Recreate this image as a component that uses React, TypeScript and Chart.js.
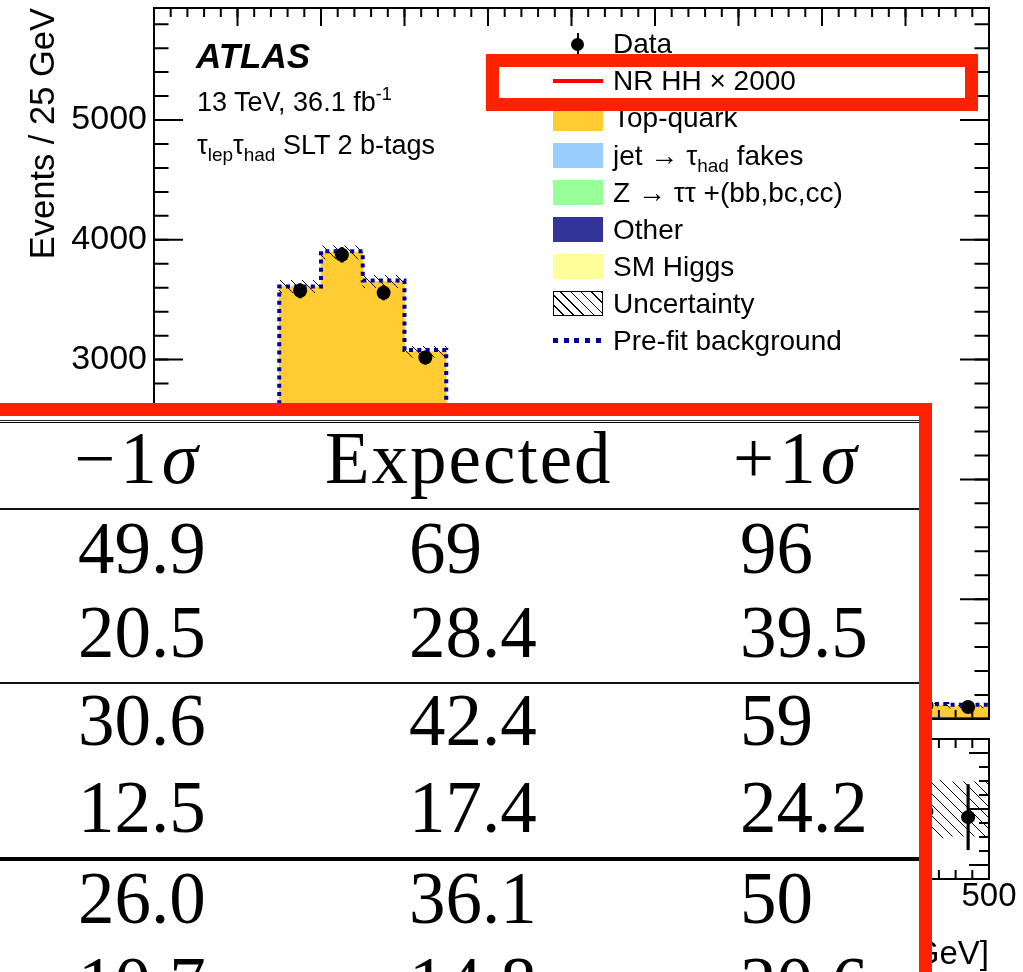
import React, { useEffect, useRef } from "react";
import { Chart, registerables } from "chart.js";

Chart.register(...registerables);

// ---------------- data ----------------
const binEdges = [0, 25, 50, 75, 100, 125, 150, 175, 200, 225, 250, 275, 300, 325, 350, 375, 400, 425, 450, 475, 500];
const binCenters = [12.5, 37.5, 62.5, 87.5, 112.5, 137.5, 162.5, 187.5, 212.5, 237.5, 262.5, 287.5, 312.5, 337.5, 362.5, 387.5, 412.5, 437.5, 462.5, 487.5];

const topQuark = [0, 40, 1180, 3080, 3340, 3140, 2640, 2060, 1530, 1130, 820, 600, 440, 330, 255, 195, 150, 122, 98, 90];
const jetFakes = [0, 12, 170, 410, 440, 400, 330, 250, 180, 130, 95, 70, 52, 40, 31, 24, 19, 15, 12, 9];
const zTauTau = [0, 4, 50, 85, 80, 78, 65, 50, 38, 28, 20, 15, 11, 9, 7, 5, 4, 3, 3, 2];
const otherBkg = [0, 2, 20, 28, 27, 26, 24, 20, 16, 12, 9, 7, 5, 4, 3, 3, 2, 2, 2, 1];
const smHiggs = [0, 1, 5, 7, 8, 8, 7, 6, 5, 4, 3, 2, 2, 1, 1, 1, 1, 1, 1, 1];
const bkgUncertainty = [0, 5, 45, 52, 55, 52, 45, 38, 30, 24, 19, 15, 12, 10, 9, 8, 7, 7, 12, 10];
const preFitBackground = [0, 58, 1440, 3610, 3905, 3660, 3080, 2420, 1790, 1320, 960, 700, 515, 390, 300, 230, 178, 145, 126, 118];
const signalNRHHx2000 = [0, 3, 40, 110, 160, 150, 95, 55, 35, 24, 18, 14, 11, 9, 8, 7, 6, 5, 5, 4];
const dataCounts = [0, 55, 1400, 3575, 3875, 3558, 3017, 2420, 1760, 1310, 940, 690, 505, 395, 290, 232, 170, 140, 115, 100];
const dataErrors = [0, 7, 37, 60, 62, 60, 55, 49, 42, 36, 31, 26, 22, 20, 17, 15, 13, 12, 11, 12];

const mainYTicks = [0, 1000, 2000, 3000, 4000, 5000];

// table
const tableHeaders = ["\u22121", "Expected", "+1"];
const minus1Sigma = ["49.9", "20.5", "30.6", "12.5", "26.0", "10.7"];
const expectedLimit = ["69", "28.4", "42.4", "17.4", "36.1", "14.8"];
const plus1Sigma = ["96", "39.5", "59", "24.2", "50", "20.6"];

// legend
const legendLabels = ["Data", "NR HH \u00d7 2000", "Top-quark", "jet \u2192 \u03c4", "Z \u2192 \u03c4\u03c4 +(bb,bc,cc)", "Other", "SM Higgs", "Uncertainty", "Pre-fit background"];
const COLORS = {
  top: "#ffcc33",
  fakes: "#99ccff",
  z: "#99ff99",
  other: "#333399",
  higgs: "#ffff99",
  prefit: "#000099",
  signal: "#ff0000",
  annot: "#ff2200",
};

const SANS = "'Liberation Sans', Arial, Helvetica, sans-serif";
const SERIF = "'Liberation Serif', 'Times New Roman', serif";

// ---------------- helpers ----------------
function makeHatch(): CanvasPattern | string {
  const c = document.createElement("canvas");
  c.width = 11;
  c.height = 11;
  const g = c.getContext("2d");
  if (!g) return "rgba(0,0,0,0.3)";
  g.strokeStyle = "#000";
  g.lineWidth = 1;
  g.beginPath();
  g.moveTo(-1, -1);
  g.lineTo(12, 12);
  g.moveTo(10, -1);
  g.lineTo(12, 1);
  g.moveTo(-1, 10);
  g.lineTo(1, 12);
  g.stroke();
  const p = g.createPattern(c, "repeat");
  return p || "rgba(0,0,0,0.3)";
}

const rootFrame = {
  id: "rootFrame",
  afterDatasetsDraw(chart: any, _args: any, o: any) {
    const { ctx, chartArea: a, scales } = chart;
    const xs = scales.x;
    const ys = scales.y;
    ctx.save();
    ctx.strokeStyle = "#000";
    ctx.lineWidth = 2;
    ctx.lineCap = "butt";
    const eachTick = (min: number, max: number, step: number, fn: (v: number) => void) => {
      const start = Math.ceil(min / step - 1e-9);
      const end = Math.floor(max / step + 1e-9);
      for (let i = start; i <= end; i++) fn(i * step);
    };
    const xTicks = (step: number, len: number) =>
      eachTick(xs.min, xs.max, step, (v) => {
        const p = xs.getPixelForValue(v);
        ctx.beginPath();
        ctx.moveTo(p, a.bottom);
        ctx.lineTo(p, a.bottom - len);
        ctx.moveTo(p, a.top);
        ctx.lineTo(p, a.top + len);
        ctx.stroke();
      });
    const yTicks = (step: number, len: number) =>
      eachTick(ys.min, ys.max, step, (v) => {
        const p = ys.getPixelForValue(v);
        ctx.beginPath();
        ctx.moveTo(a.left, p);
        ctx.lineTo(a.left + len, p);
        ctx.moveTo(a.right, p);
        ctx.lineTo(a.right - len, p);
        ctx.stroke();
      });
    xTicks(o.xMinor, o.xMinLen);
    xTicks(o.xMajor, o.xMajLen);
    yTicks(o.yMinor, o.yMinLen);
    yTicks(o.yMajor, o.yMajLen);
    ctx.strokeRect(a.left, a.top, a.right - a.left, a.bottom - a.top);
    ctx.restore();
  },
};

function stepPoints(values: number[]) {
  return binEdges.map((x, i) => ({ x, y: values[Math.min(i, values.length - 1)] }));
}

// text positioned by baseline
function Txt(props: { x: number; base: number; size: number; serif?: boolean; style?: any; children: any }) {
  const k = props.serif ? 0.8375 : 0.8465;
  return (
    <div
      style={{
        position: "absolute",
        left: props.x,
        top: props.base - k * props.size,
        fontSize: props.size,
        lineHeight: `${props.size}px`,
        height: props.size,
        fontFamily: props.serif ? SERIF : SANS,
        whiteSpace: "nowrap",
        color: "#000",
        ...(props.style || {}),
      }}
    >
      {props.children}
    </div>
  );
}

const subStyle = (size: number, shift: number) => ({ fontSize: size, verticalAlign: shift, lineHeight: 0 } as any);

export default function App() {
  const mainRef = useRef<HTMLCanvasElement>(null);
  const ratioRef = useRef<HTMLCanvasElement>(null);

  useEffect(() => {
    if (!mainRef.current || !ratioRef.current) return;
    Chart.defaults.font.family = SANS;
    Chart.defaults.color = "#000";
    const hatch = makeHatch();

    const components = [
      { label: "SM Higgs", values: smHiggs, color: COLORS.higgs },
      { label: "Other", values: otherBkg, color: COLORS.other },
      { label: "Z \u2192 \u03c4\u03c4 +(bb,bc,cc)", values: zTauTau, color: COLORS.z },
      { label: "jet \u2192 \u03c4had fakes", values: jetFakes, color: COLORS.fakes },
      { label: "Top-quark", values: topQuark, color: COLORS.top },
    ];
    let cum = binCenters.map(() => 0);
    const fillSets = components.map((c, k) => {
      const lo = cum.slice();
      cum = cum.map((v, i) => v + c.values[i]);
      const hi = cum.slice();
      return {
        type: "bar",
        label: c.label,
        data: binCenters.map((x, i) => ({ x, y: [lo[i], hi[i]] })),
        backgroundColor: c.color,
        borderWidth: 0,
        grouped: false,
        barPercentage: 1,
        categoryPercentage: 1,
        order: 10 + k,
      };
    });
    const total = cum;
    const idx = binCenters.map((_, i) => i);
    const dataIdx = idx.filter((i) => dataCounts[i] > 0);
    const predIdx = idx.filter((i) => total[i] > 0);

    const mainChart = new Chart(mainRef.current, {
      type: "bar",
      data: {
        datasets: [
          ...fillSets,
          {
            type: "bar",
            label: "Uncertainty",
            data: predIdx.map((i) => ({ x: binCenters[i], y: [total[i] - bkgUncertainty[i], total[i] + bkgUncertainty[i]] })),
            backgroundColor: hatch,
            borderWidth: 0,
            grouped: false,
            barPercentage: 1,
            categoryPercentage: 1,
            order: 5,
          },
          {
            type: "line",
            label: "NR HH \u00d7 2000",
            data: stepPoints(signalNRHHx2000),
            borderColor: COLORS.signal,
            borderWidth: 3,
            stepped: true,
            pointRadius: 0,
            fill: false,
            order: 4,
          },
          {
            type: "line",
            label: "Pre-fit background",
            data: stepPoints(preFitBackground),
            borderColor: COLORS.prefit,
            borderWidth: 4,
            borderDash: [4, 4.3],
            stepped: true,
            pointRadius: 0,
            fill: false,
            order: 3,
          },
          {
            type: "bar",
            label: "Data error",
            data: dataIdx.map((i) => ({ x: binCenters[i], y: [dataCounts[i] - dataErrors[i], dataCounts[i] + dataErrors[i]] })),
            backgroundColor: "#000",
            borderWidth: 0,
            grouped: false,
            barThickness: 2.5,
            order: 1,
          },
          {
            type: "line",
            label: "Data",
            data: dataIdx.map((i) => ({ x: binCenters[i], y: dataCounts[i] })),
            showLine: false,
            pointRadius: 7,
            pointBackgroundColor: "#000",
            pointBorderWidth: 0,
            order: 0,
          },
        ] as any,
      },
      options: {
        responsive: false,
        animation: false,
        devicePixelRatio: 1,
        events: [],
        layout: { padding: { top: 8, right: 34, bottom: 11, left: 0 } },
        plugins: {
          legend: { display: false },
          tooltip: { enabled: false },
          rootFrame: { xMajor: 50, xMinor: 10, yMajor: 1000, yMinor: 200, xMajLen: 18, xMinLen: 9, yMajLen: 29, yMinLen: 14.5 },
        } as any,
        scales: {
          x: { type: "linear", min: 0, max: 500, offset: false, display: false, grid: { display: false } },
          y: {
            type: "linear",
            min: 0,
            max: 5935,
            grid: { display: false, drawTicks: false },
            border: { display: false },
            afterBuildTicks: (s: any) => {
              s.ticks = mainYTicks.map((v) => ({ value: v }));
            },
            ticks: { padding: 7, font: { size: 34 }, color: "#000", callback: (v: any) => String(v) },
            title: {
              display: true,
              text: "Events / 25 GeV",
              align: "end",
              color: "#000",
              font: { size: 34.5, lineHeight: 1 },
              padding: { top: 27, bottom: 0 },
            },
            afterFit: (s: any) => {
              s.width = 154;
              s.paddingTop = 0;
              s.paddingBottom = 0;
            },
          },
        } as any,
      },
      plugins: [rootFrame as any],
    });

    const ratio = dataIdx.map((i) => dataCounts[i] / total[i]);
    const ratioChart = new Chart(ratioRef.current, {
      type: "bar",
      data: {
        datasets: [
          {
            type: "bar",
            label: "Uncertainty",
            data: predIdx.map((i) => ({ x: binCenters[i], y: [1 - bkgUncertainty[i] / total[i], 1 + bkgUncertainty[i] / total[i]] })),
            backgroundColor: hatch,
            borderWidth: 0,
            grouped: false,
            barPercentage: 1,
            categoryPercentage: 1,
            order: 5,
          },
          {
            type: "bar",
            label: "Data error",
            data: dataIdx.map((i, k) => ({ x: binCenters[i], y: [ratio[k] - dataErrors[i] / total[i], ratio[k] + dataErrors[i] / total[i]] })),
            backgroundColor: "#000",
            borderWidth: 0,
            grouped: false,
            barThickness: 2.5,
            order: 1,
          },
          {
            type: "line",
            label: "Data/Pred.",
            data: dataIdx.map((i, k) => ({ x: binCenters[i], y: ratio[k] })),
            showLine: false,
            pointRadius: 7,
            pointBackgroundColor: "#000",
            pointBorderWidth: 0,
            order: 0,
          },
        ] as any,
      },
      options: {
        responsive: false,
        animation: false,
        devicePixelRatio: 1,
        events: [],
        layout: { padding: { top: 19, right: 34, bottom: 0, left: 0 } },
        plugins: {
          legend: { display: false },
          tooltip: { enabled: false },
          rootFrame: { xMajor: 50, xMinor: 10, yMajor: 0.2, yMinor: 0.05, xMajLen: 18, xMinLen: 9, yMajLen: 20, yMinLen: 10 },
        } as any,
        scales: {
          x: {
            type: "linear",
            min: 0,
            max: 500,
            offset: false,
            grid: { display: false, drawTicks: false },
            border: { display: false },
            ticks: { stepSize: 50, padding: 1, maxRotation: 0, autoSkip: false, font: { size: 33, lineHeight: 1 }, color: "#000", callback: (v: any) => String(v) },
            title: {
              display: true,
              text: "mbb [GeV]",
              align: "end",
              color: "#000",
              font: { size: 33, lineHeight: 1 },
              padding: { top: 0, bottom: 0.5 },
            },
            afterFit: (s: any) => {
              s.height = 93;
              s.paddingLeft = 0;
              s.paddingRight = 0;
            },
          },
          y: {
            type: "linear",
            min: 0.75,
            max: 1.25,
            grid: { display: false, drawTicks: false },
            border: { display: false },
            ticks: { stepSize: 0.2, includeBounds: false, padding: 7, font: { size: 30 }, color: "#000", callback: (v: any) => String(Math.round(v * 100) / 100) },
            title: { display: true, text: "Data/Pred.", color: "#000", font: { size: 30, lineHeight: 1 }, padding: { top: 27.5, bottom: 0 } },
            afterFit: (s: any) => {
              s.width = 154;
              s.paddingTop = 0;
              s.paddingBottom = 0;
            },
          },
        } as any,
      },
      plugins: [rootFrame as any],
    });

    return () => {
      mainChart.destroy();
      ratioChart.destroy();
    };
  }, []);

  // legend layout
  const legTop = 44;
  const legStep = 37.1;
  const boxL = 553;
  const boxW = 50;
  const textL = 613;
  const rowC = (i: number) => legTop + i * legStep;
  const colorBoxes: [number, string][] = [
    [2, COLORS.top],
    [3, COLORS.fakes],
    [4, COLORS.z],
    [5, COLORS.other],
    [6, COLORS.higgs],
  ];

  // table layout
  const headerBase = 483;
  const rowBases = [573, 657, 745, 832, 923, 1008];
  const colLeft = [78, 409, 740];
  const tableSize = 73;

  return (
    <div style={{ position: "absolute", left: 0, top: 0, width: 1023, height: 972, overflow: "hidden", background: "#fff" }}>
      <canvas ref={mainRef} width={1023} height={730} style={{ position: "absolute", left: 0, top: 0 }} />
      <canvas ref={ratioRef} width={1023} height={252} style={{ position: "absolute", left: 0, top: 720 }} />

      {/* ATLAS labels */}
      <Txt x={196} base={68} size={35} style={{ fontWeight: "bold", fontStyle: "italic" }}>
        ATLAS
      </Txt>
      <Txt x={197} base={112} size={27}>
        13 TeV, 36.1 fb<span style={subStyle(18, 11)}>-1</span>
      </Txt>
      <Txt x={197} base={155} size={27}>
        {"\u03c4"}
        <span style={subStyle(19, -7)}>lep</span>
        {"\u03c4"}
        <span style={subStyle(19, -7)}>had</span> SLT 2 b-tags
      </Txt>

      {/* legend symbols */}
      <div style={{ position: "absolute", left: 576.5, top: rowC(0) - 11, width: 2.5, height: 21, background: "#000" }} />
      <div style={{ position: "absolute", left: 571, top: rowC(0) - 6, width: 13, height: 13, borderRadius: "50%", background: "#000" }} />
      <div style={{ position: "absolute", left: boxL, top: rowC(1) - 2, width: boxW, height: 4, background: COLORS.signal }} />
      {colorBoxes.map(([i, c]) => (
        <div key={i} style={{ position: "absolute", left: boxL, top: rowC(i) - 12.5, width: boxW, height: 25, background: c }} />
      ))}
      <div
        style={{
          position: "absolute",
          left: boxL,
          top: rowC(7) - 12.5,
          width: boxW,
          height: 25,
          boxSizing: "border-box",
          border: "1.5px solid #000",
          background: "repeating-linear-gradient(45deg, #fff 0px, #fff 6px, #000 6px, #000 7.2px)",
        }}
      />
      <div
        style={{
          position: "absolute",
          left: boxL,
          top: rowC(8) - 2.5,
          width: boxW,
          height: 5,
          background: `repeating-linear-gradient(90deg, ${COLORS.prefit} 0px, ${COLORS.prefit} 5px, transparent 5px, transparent 10.7px)`,
        }}
      />
      {legendLabels.map((t, i) => (
        <Txt key={i} x={textL} base={rowC(i) + 10} size={28}>
          {i === 3 ? (
            <>
              {t}
              <span style={subStyle(19, -7)}>had</span> fakes
            </>
          ) : (
            t
          )}
        </Txt>
      ))}

      {/* red annotation box around signal legend entry */}
      <div
        style={{
          position: "absolute",
          left: 486,
          top: 54,
          width: 492,
          height: 57,
          boxSizing: "border-box",
          border: `13px solid ${COLORS.annot}`,
        }}
      />

      {/* table overlay */}
      <div
        style={{
          position: "absolute",
          left: -30,
          top: 403,
          width: 962,
          height: 700,
          boxSizing: "border-box",
          border: `13px solid ${COLORS.annot}`,
          background: "#fff",
        }}
      />
      <div style={{ position: "absolute", left: 0, top: 419.5, width: 919, height: 1.3, background: "#222" }} />
      <div style={{ position: "absolute", left: 0, top: 421.8, width: 919, height: 1.5, background: "#000" }} />
      <div style={{ position: "absolute", left: 0, top: 507.5, width: 919, height: 2, background: "#111" }} />
      <div style={{ position: "absolute", left: 0, top: 681.5, width: 919, height: 2, background: "#111" }} />
      <div style={{ position: "absolute", left: 0, top: 856.5, width: 919, height: 4.5, background: "#000" }} />

      <Txt x={74} base={headerBase} size={tableSize} serif style={{ letterSpacing: 5 }}>
        {tableHeaders[0]}
        <i>{"\u03c3"}</i>
      </Txt>
      <Txt x={325} base={headerBase} size={tableSize} serif style={{ letterSpacing: 2 }}>
        {tableHeaders[1]}
      </Txt>
      <Txt x={733} base={headerBase} size={tableSize} serif style={{ letterSpacing: 5 }}>
        {tableHeaders[2]}
        <i>{"\u03c3"}</i>
      </Txt>
      {rowBases.map((b, r) => (
        <React.Fragment key={r}>
          <Txt x={colLeft[0]} base={b} size={tableSize} serif>
            {minus1Sigma[r]}
          </Txt>
          <Txt x={colLeft[1]} base={b} size={tableSize} serif>
            {expectedLimit[r]}
          </Txt>
          <Txt x={colLeft[2]} base={b} size={tableSize} serif>
            {plus1Sigma[r]}
          </Txt>
        </React.Fragment>
      ))}
    </div>
  );
}
